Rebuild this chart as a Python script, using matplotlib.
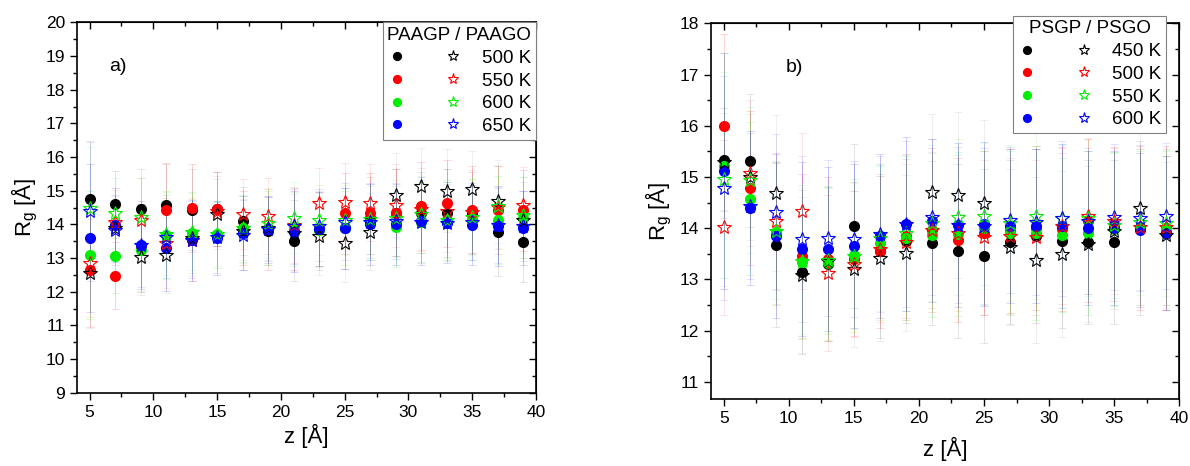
import matplotlib
matplotlib.use("Agg")
import matplotlib.pyplot as plt
from matplotlib.legend_handler import HandlerTuple
from matplotlib.ticker import MultipleLocator

plt.rcParams['font.family'] = ['Liberation Sans', 'DejaVu Sans']

z = [5, 7, 9, 11, 13, 15, 17, 19, 21, 23, 25, 27, 29, 31, 33, 35, 37, 39]

# panel a) PAAGP (circles) / PAAGO (stars)
temps_a = ["500 K", "550 K", "600 K", "650 K"]
paagp_500 = [14.75, 14.6, 14.45, 14.58, 14.43, 14.45, 14.1, 13.8, 13.52, 13.85, 13.88, 14.2, 14.35, 14.35, 14.33, 14.35, 13.78, 13.48]
paagp_550 = [12.65, 12.48, 13.3, 14.42, 14.49, 14.47, 13.9, 13.85, 13.85, 13.85, 14.33, 14.33, 14.35, 14.54, 14.62, 14.42, 14.42, 14.42]
paagp_600 = [13.1, 13.07, 13.23, 13.68, 13.75, 13.7, 13.88, 13.9, 13.85, 13.82, 13.9, 14.05, 13.93, 14.07, 14.13, 14.15, 14.13, 14.2]
paagp_650 = [13.6, 13.98, 13.38, 13.31, 13.53, 13.6, 13.75, 13.85, 13.78, 13.85, 13.88, 14.0, 14.0, 14.1, 14.05, 13.98, 13.95, 13.88]
paago_500 = [12.55, 13.9, 13.04, 13.09, 13.6, 14.31, 13.8, 13.9, 13.75, 13.65, 13.44, 13.78, 14.87, 15.14, 15.0, 15.04, 14.69, 14.13]
paago_550 = [12.85, 14.08, 14.13, 13.44, 13.55, 14.4, 14.3, 14.25, 13.98, 14.64, 14.67, 14.64, 14.57, 14.45, 14.4, 14.38, 14.51, 14.57]
paago_600 = [14.5, 14.33, 14.23, 13.72, 13.78, 13.7, 13.9, 14.05, 14.2, 14.13, 14.13, 14.15, 14.18, 14.3, 14.13, 14.23, 14.54, 14.28]
paago_650 = [14.4, 13.83, 13.38, 13.63, 13.55, 13.61, 13.68, 13.85, 13.95, 13.95, 14.08, 14.08, 14.1, 14.08, 14.05, 14.08, 13.98, 13.95]
err_a_500 = [1.7, 1.0, 1.2, 1.2, 1.2, 1.1, 1.0, 1.0, 1.2, 1.2, 1.2, 1.2, 1.3, 1.2, 1.3, 1.2, 1.3, 1.2]
err_a_550 = [1.7, 1.0, 1.3, 1.4, 1.3, 1.1, 1.1, 1.2, 1.2, 1.1, 1.2, 1.2, 1.3, 1.3, 1.3, 1.3, 1.3, 1.2]
err_a_600 = [1.9, 1.1, 1.2, 1.3, 1.2, 1.0, 1.0, 1.1, 1.1, 1.1, 1.1, 1.1, 1.2, 1.2, 1.2, 1.2, 1.3, 1.2]
err_a_650 = [2.2, 1.1, 1.3, 1.3, 1.2, 1.1, 1.1, 1.0, 1.2, 1.1, 1.2, 1.2, 1.2, 1.3, 1.2, 1.2, 1.2, 1.1]

# panel b) PSGP (circles) / PSGO (stars)
temps_b = ["450 K", "500 K", "550 K", "600 K"]
psgp_450 = [15.34, 15.32, 13.67, 13.14, 13.3, 14.04, 13.55, 13.75, 13.72, 13.56, 13.45, 13.73, 13.85, 13.76, 13.73, 13.73, 14.0, 13.91]
psgp_500 = [16.0, 14.78, 13.9, 13.46, 13.4, 13.4, 13.56, 13.85, 13.96, 13.77, 13.9, 13.95, 14.0, 13.98, 14.15, 14.08, 14.0, 14.0]
psgp_550 = [15.22, 14.58, 13.92, 13.34, 13.32, 13.47, 13.71, 13.8, 13.87, 13.88, 14.0, 13.91, 13.91, 13.87, 13.91, 13.98, 14.0, 14.0]
psgp_600 = [15.12, 14.4, 13.85, 13.59, 13.59, 13.65, 13.85, 14.08, 14.15, 14.06, 14.08, 14.04, 14.04, 14.04, 14.0, 14.0, 13.96, 13.91]
psgo_450 = [15.3, 15.0, 14.69, 13.08, 13.36, 13.21, 13.41, 13.52, 14.7, 14.65, 14.5, 13.64, 13.38, 13.5, 13.69, 13.95, 14.4, 13.87]
psgo_500 = [14.02, 15.07, 14.14, 14.34, 13.13, 13.3, 13.6, 13.73, 13.96, 13.9, 13.82, 13.85, 13.82, 14.05, 14.24, 14.15, 14.03, 14.03]
psgo_550 = [14.96, 14.94, 13.95, 13.36, 13.38, 13.45, 13.8, 13.9, 14.1, 14.22, 14.24, 14.1, 14.24, 14.19, 14.2, 14.06, 14.12, 14.1]
psgo_600 = [14.78, 14.43, 14.32, 13.79, 13.81, 13.79, 13.88, 14.08, 14.22, 14.06, 14.05, 14.16, 14.13, 14.19, 14.15, 14.22, 14.19, 14.24]
err_b_450 = [1.0, 1.3, 1.6, 1.6, 1.5, 1.6, 1.7, 1.6, 1.6, 1.7, 1.7, 1.6, 1.7, 1.7, 1.6, 1.6, 1.7, 1.5]
err_b_500 = [1.8, 1.5, 1.4, 1.6, 1.6, 1.5, 1.5, 1.6, 1.6, 1.6, 1.6, 1.6, 1.6, 1.6, 1.6, 1.5, 1.6, 1.6]
err_b_550 = [2.2, 1.5, 1.4, 1.5, 1.5, 1.5, 1.5, 1.6, 1.6, 1.6, 1.5, 1.6, 1.7, 1.5, 1.6, 1.5, 1.5, 1.5]
err_b_600 = [2.3, 1.5, 1.6, 1.7, 1.6, 1.6, 1.6, 1.7, 1.6, 1.6, 1.6, 1.5, 1.5, 1.6, 1.5, 1.5, 1.5, 1.5]

colors = ['black', '#ff0000', '#00ee00', '#0000ff']


def draw_panel(ax, circles, stars, errs, labels, title):
    handles = []
    for gp, go, err, c in zip(circles, stars, errs, colors):
        ecol = '0.4' if c == 'black' else c
        ax.errorbar(z, gp, yerr=err, fmt='none', ecolor=ecol, elinewidth=0.7,
                    capsize=3, capthick=0.6, alpha=0.18, zorder=1)
        ax.errorbar(z, go, yerr=[e * 0.95 for e in err], fmt='none', ecolor=ecol,
                    elinewidth=0.6, capsize=3, capthick=0.6, alpha=0.12, zorder=1)
        h1, = ax.plot(z, gp, 'o', color=c, ms=7, mec=c, zorder=3, linestyle='none')
        h2, = ax.plot(z, go, '*', mfc='none', mec=c, mew=0.8, ms=10, zorder=4,
                      linestyle='none')
        handles.append((h1, h2))
    ax.set_xlim(4, 40)
    ax.xaxis.set_major_locator(MultipleLocator(5))
    ax.xaxis.set_minor_locator(MultipleLocator(2.5))
    ax.yaxis.set_major_locator(MultipleLocator(1))
    ax.yaxis.set_minor_locator(MultipleLocator(0.5))
    ax.tick_params(which='both', direction='out', labelsize=12.5, width=1)
    ax.tick_params(which='major', length=5)
    ax.tick_params(which='minor', length=3)
    # mirrored inward ticks on top and right
    top = ax.secondary_xaxis('top')
    top.xaxis.set_major_locator(MultipleLocator(5))
    top.xaxis.set_minor_locator(MultipleLocator(2.5))
    top.tick_params(which='both', direction='in', labeltop=False, width=1)
    top.tick_params(which='major', length=5)
    top.tick_params(which='minor', length=3)
    right = ax.secondary_yaxis('right')
    right.yaxis.set_major_locator(MultipleLocator(1))
    right.yaxis.set_minor_locator(MultipleLocator(0.5))
    right.tick_params(which='both', direction='in', labelright=False, width=1)
    right.tick_params(which='major', length=5)
    right.tick_params(which='minor', length=3)
    for s in ax.spines.values():
        s.set_linewidth(1.2)
    ax.set_ylabel(r'R$_\mathregular{g}$ [Å]', fontsize=16)
    leg = ax.legend(handles, labels, title=title, ncol=1,
                    handler_map={tuple: HandlerTuple(ndivide=None, pad=2.0)},
                    handlelength=4.0, fontsize=13.5, title_fontsize=13.5,
                    labelspacing=0.3, handletextpad=1.0, borderpad=0.25,
                    fancybox=False, edgecolor='0.5', framealpha=1,
                    markerscale=0.8, borderaxespad=0)
    leg.get_frame().set_linewidth(0.8)
    leg.set_zorder(10)
    return leg


fig = plt.figure(figsize=(11.9, 4.66), dpi=100)
ax_a = fig.add_axes([0.0645, 0.1573, 0.3859, 0.7947])
ax_b = fig.add_axes([0.5972, 0.1431, 0.3938, 0.8069])

leg_a = draw_panel(ax_a, [paagp_500, paagp_550, paagp_600, paagp_650],
                   [paago_500, paago_550, paago_600, paago_650],
                   [err_a_500, err_a_550, err_a_600, err_a_650], temps_a, 'PAAGP / PAAGO')
leg_a.set_bbox_to_anchor((1.0, 1.0), transform=ax_a.transAxes)
leg_a._loc = 1
ax_a.set_ylim(9, 20)
ax_a.set_xlabel('z [Å]', fontsize=16, labelpad=3)
ax_a.text(0.07, 0.87, 'a)', transform=ax_a.transAxes, fontsize=14)

leg_b = draw_panel(ax_b, [psgp_450, psgp_500, psgp_550, psgp_600],
                   [psgo_450, psgo_500, psgo_550, psgo_600],
                   [err_b_450, err_b_500, err_b_550, err_b_600], temps_b, 'PSGP / PSGO')
leg_b.set_bbox_to_anchor((1165.7 / 1190, 1 - 15.7 / 466), transform=fig.transFigure)
leg_b._loc = 1
ax_b.set_ylim(10.66, 18)
ax_b.set_xlabel('z [Å]', fontsize=16, labelpad=8)
ax_b.text(0.16, 0.87, 'b)', transform=ax_b.transAxes, fontsize=14)

fig.savefig('out.png', dpi=100)
